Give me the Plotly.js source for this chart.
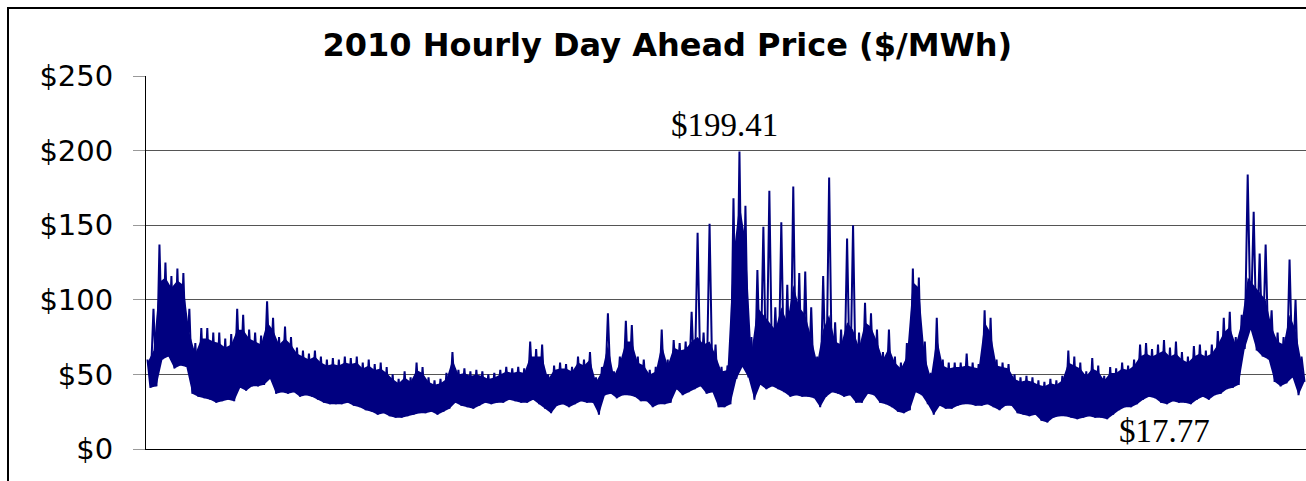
<!DOCTYPE html>
<html>
<head>
<meta charset="utf-8">
<script src="https://cdn.plot.ly/plotly-3.0.1.min.js"></script>
<style>
  html, body { margin:0; padding:0; width:1306px; height:481px; overflow:hidden; background:#fff; }
  #frame { position:absolute; left:7px; top:7px; width:1400px; height:600px; border:2px solid #000; box-sizing:border-box; }
  #chart { position:absolute; left:0; top:0; width:1306px; height:481px; }
</style>
</head>
<body>
<div id="frame"></div>
<div id="chart"></div>
<script>
// Hourly price envelope ($/MWh), Jan -> Dec 2010.
// peaks: highest spikes; bandTop: top of the dense solid band; troughs: lowest hours.
const peaks = [60,94,137,125,116,121,118,94,71,81,81,78,78,74,77,94,90,80,78,76,
  99,88,75,82,75,68,66,64,66,62,60,61,60,62,61,62,58,60,57,58,
  55,50,47,52,48,58,55,48,46,47,51,65,53,54,52,53,52,50,51,53,
  55,54,55,54,72,67,70,50,56,58,57,55,62,60,65,48,55,91,52,62,
  86,83,62,60,53,55,80,60,73,71,72,92,145,78,151,70,55,56,168,199.41,
  163,75,120,149,173,95,152,110,176,118,119,95,62,116,182,85,80,141,150,78,
  98,91,80,65,80,62,58,71,121,115,72,51,88,60,58,58,58,64,58,57,
  93,88,60,58,57,50,48,49,48,46,45,47,46,49,66,62,58,52,61,56,
  49,55,54,58,56,60,70,71,67,70,73,68,72,65,62,69,70,66,70,79,
  88,92,75,90,184,159,131,137,93,78,75,127,100,62];
const bandTop = [58,66,112,115,108,113,110,78,64,74,74,72,71,68,70,80,80,74,72,70,
  85,80,70,74,70,64,62,60,62,58,56,57,56,58,57,58,54,56,53,54,
  51,47,44,48,45,53,51,45,43,44,47,60,50,51,49,50,49,47,48,50,
  52,51,52,51,62,62,62,47,53,54,54,52,58,56,60,45,52,70,49,58,
  72,72,58,56,50,52,70,56,68,66,67,72,75,70,72,63,52,53,130,165,
  140,65,95,90,85,80,95,85,110,95,90,75,58,80,90,72,70,85,80,68,
  85,82,72,60,68,58,54,62,112,108,62,48,75,56,54,55,55,56,55,54,
  85,78,56,55,54,47,45,46,45,43,42,44,43,46,58,56,54,49,54,52,
  46,51,51,54,53,56,62,64,62,64,66,62,64,60,58,62,64,62,64,70,
  78,82,70,85,115,110,105,100,82,72,70,90,80,58];
const troughs = [41,42,60,62,54,56,55,37,35,34,33,31,32,33,32,41,39,42,42,43,
  47,37,38,37,38,35,36,35,33,31,30,30,30,31,29,28,26,25,23,24,
  22,21,21,22,23,24,24,25,23,25,27,31,29,28,27,29,31,30,31,31,
  33,32,31,31,33,30,27,24,29,30,28,30,32,31,31,23,36,37,34,36,
  36,35,32,32,28,30,30,31,40,36,38,40,42,37,38,28,28,30,47,55,
  48,33,43,40,42,40,38,35,36,35,35,34,28,35,38,37,35,36,31,31,
  37,36,31,30,28,25,24,26,38,36,30,23,29,27,27,29,30,30,29,29,
  30,28,26,29,29,24,23,22,23,19,17.77,21,22,22,21,20,21,22,21,21,
  20,23,26,28,28,30,33,35,34,31,30,32,31,31,30,33,35,33,36,37,
  40,41,43,67,80,66,62,60,45,42,44,48,36,45];
const yTickValues = [0, 50, 100, 150, 200, 250];
const yTickLabels = ['$0', '$50', '$100', '$150', '$200', '$250'];
const maxLabel = '$199.41';
const minLabel = '$17.77';
const hoursInYear = 8760;

const n = peaks.length;
const step = hoursInYear / (2 * n);
const xPeak = [], xTrough = [];
for (let i = 0; i < n; i++) {
  xPeak.push((2 * i + 0.5) * step);
  xTrough.push((2 * i + 1.5) * step);
}
// zigzag through peaks and troughs
const zx = [], zy = [];
for (let i = 0; i < n; i++) {
  zx.push(xPeak[i]); zy.push(peaks[i]);
  zx.push(xTrough[i]); zy.push(troughs[i]);
}

const navy = '#000080';
const traces = [
  { x: xTrough, y: troughs, type: 'scatter', mode: 'lines',
    line: { color: navy, width: 0 }, hoverinfo: 'skip' },
  { x: xPeak, y: bandTop, type: 'scatter', mode: 'lines', fill: 'tonexty',
    fillcolor: navy, line: { color: navy, width: 0 }, hoverinfo: 'skip' },
  { x: zx, y: zy, type: 'scatter', mode: 'lines',
    line: { color: navy, width: 2 }, hoverinfo: 'skip' }
];

const layout = {
  width: 1306, height: 481,
  margin: { l: 146, r: 0, t: 76, b: 32, pad: 0 },
  paper_bgcolor: 'rgba(0,0,0,0)', plot_bgcolor: 'rgba(0,0,0,0)',
  showlegend: false,
  title: {
    text: '<b>2010 Hourly Day Ahead Price ($/MWh)</b>',
    font: { family: 'DejaVu Sans', size: 32, color: '#000' },
    xref: 'container', x: 0.511, xanchor: 'center',
    yref: 'container', y: 0.906, yanchor: 'middle'
  },
  xaxis: {
    range: [0, hoursInYear], showgrid: false, zeroline: false,
    showticklabels: false, ticks: '', showline: true, linecolor: '#000', linewidth: 1
  },
  yaxis: {
    range: [0, 250], tickvals: yTickValues, ticktext: yTickLabels,
    showgrid: true, gridcolor: '#555', gridwidth: 1, zeroline: false,
    showline: true, linecolor: '#000', linewidth: 1,
    ticks: 'outside', ticklen: 12, tickcolor: '#999', tickwidth: 1,
    ticklabelstandoff: 14,
    tickfont: { family: 'DejaVu Sans', size: 29, color: '#000' }
  },
  annotations: [
    { text: maxLabel, xref: 'paper', yref: 'paper', x: 0.4991, y: 0.8686,
      xanchor: 'center', yanchor: 'middle', showarrow: false,
      font: { family: 'Liberation Serif', size: 33, color: '#000' } },
    { text: minLabel, xref: 'paper', yref: 'paper', x: 0.8784, y: 0.048,
      xanchor: 'center', yanchor: 'middle', showarrow: false,
      font: { family: 'Liberation Serif', size: 33, color: '#000' } }
  ]
};

Plotly.newPlot('chart', traces, layout, { staticPlot: true, displayModeBar: false });
</script>
</body>
</html>
